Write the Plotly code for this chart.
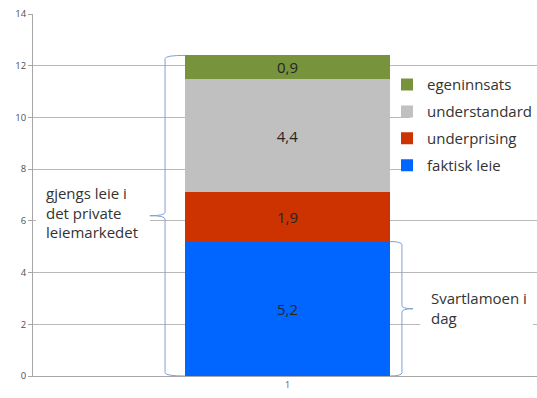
import plotly.graph_objects as go

# Stacked rent components (NOK per m², one column)
category = [1]
series_names = ["faktisk leie", "underprising", "understandard", "egeninnsats"]
series_values = [5.2, 1.9, 4.4, 0.9]
series_colors = ["#0066FF", "#CC3300", "#C0C0C0", "#77933C"]
legend_ranks = [4, 3, 2, 1]
y_ticks = [0, 2, 4, 6, 8, 10, 12, 14]

FONT = "Open Sans"
BRACE_COLOR = "#7EA1D6"

fig = go.Figure()
for name, val, col, rank in zip(series_names, series_values, series_colors, legend_ranks):
    fig.add_trace(go.Bar(
        x=category, y=[val], name=name, width=0.405,
        marker=dict(color=col, line=dict(width=0)),
        texttemplate="%{y:.1f}", textposition="inside",
        insidetextanchor="middle", constraintext="none",
        textfont=dict(family=FONT, size=15, color="#262626"),
        legendgroup=name, legendrank=rank,
    ))


def brace(xv, xe, xt, y0, y1, r=0.13):
    """Curly brace path: vertical at xv, ends curl toward xe, tip points to xt."""
    ym = (y0 + y1) / 2
    return (f"M{xe},{y1} Q{xv},{y1} {xv},{y1 - r} L{xv},{ym + r} "
            f"Q{xv},{ym} {xt},{ym} Q{xv},{ym} {xv},{ym - r} "
            f"L{xv},{y0 + r} Q{xv},{y0} {xe},{y0}")


total = sum(series_values)
actual = series_values[0]

shapes = [
    # white panels behind the text boxes and legend
    dict(type="rect", xref="paper", yref="paper", x0=0.006, x1=0.232, y0=0.315, y1=0.564,
         fillcolor="white", line=dict(width=0), layer="above"),
    dict(type="rect", xref="paper", yref="paper", x0=0.748, x1=1.0, y0=0.541, y1=0.845,
         fillcolor="white", line=dict(width=0), layer="above"),
    dict(type="rect", xref="paper", yref="paper", x0=0.768, x1=0.992, y0=0.099, y1=0.271,
         fillcolor="white", line=dict(width=0), layer="above"),
    # brace spanning the whole column (market rent)
    dict(type="path", xref="x", yref="y", path=brace(0.757, 0.797, 0.727, 0, total),
         line=dict(color=BRACE_COLOR, width=1), layer="above"),
    # brace spanning the actual rent
    dict(type="path", xref="x", yref="y", path=brace(1.227, 1.203, 1.249, 0, actual),
         line=dict(color=BRACE_COLOR, width=1), layer="above"),
]

annotations = [
    dict(text="gjengs leie i<br>det private<br>leiemarkedet", xref="paper", yref="paper",
         x=0.022, y=0.453, xanchor="left", yanchor="middle", align="left", showarrow=False,
         font=dict(family=FONT, size=15, color="#333333")),
    dict(text="Svartlamoen i<br>dag", xref="paper", yref="paper",
         x=0.785, y=0.188, xanchor="left", yanchor="middle", align="left", showarrow=False,
         font=dict(family=FONT, size=15, color="#333333")),
]

fig.update_layout(
    width=537, height=398,
    margin=dict(l=33, r=0, t=14, b=22),
    barmode="stack",
    separators=",.",
    paper_bgcolor="white", plot_bgcolor="white",
    shapes=shapes, annotations=annotations,
    showlegend=True,
    legend=dict(
        traceorder="grouped", tracegroupgap=4.4,
        x=1.0, y=0.85, xanchor="right", yanchor="top",
        bgcolor="rgba(0,0,0,0)",
        font=dict(family=FONT, size=15, color="#333333"),
    ),
    xaxis=dict(
        type="linear", range=[0.495, 1.495], tickvals=category, ticktext=["1"],
        showgrid=False, zeroline=False, showline=True, linecolor="#A6A6A6",
        ticks="", tickfont=dict(family=FONT, size=9, color="#595959"),
    ),
    yaxis=dict(
        range=[0, 14], tickvals=y_ticks, showgrid=True, gridcolor="#B8B8B8",
        zeroline=False, showline=True, linecolor="#A6A6A6",
        ticks="outside", ticklen=4, tickcolor="#A6A6A6",
        tickfont=dict(family=FONT, size=9.5, color="#505050"),
    ),
)

fig.write_html("out.html")
